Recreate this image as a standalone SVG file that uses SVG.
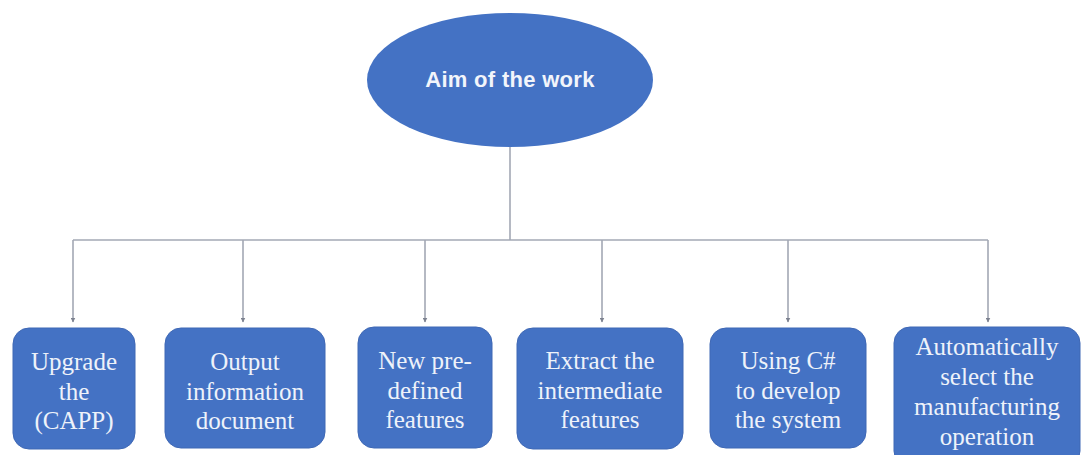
<svg xmlns="http://www.w3.org/2000/svg" width="1083" height="455" viewBox="0 0 1083 455">
  <style>
    .node { fill: #4472c4; }
    .box { fill: #4472c4; stroke: #3f68b5; stroke-width: 1; }
    .title { font-family: "Liberation Sans", Arial, sans-serif; font-weight: bold; font-size: 22px; fill: #f2f5fb; text-anchor: middle; letter-spacing: 0.3px; }
    .label { font-family: "Liberation Serif", "Times New Roman", serif; font-size: 25px; fill: #eef2fa; text-anchor: middle; }
    .link { fill: none; stroke: #a3a8b4; stroke-width: 1.6; }
  </style>
  <defs>
    <marker id="arrow" viewBox="0 0 10 10" refX="9" refY="5" markerWidth="5" markerHeight="5" orient="auto" markerUnits="userSpaceOnUse">
      <path d="M0,0 L10,5 L0,10 z" fill="#7d8290"/>
    </marker>
  </defs>
  <rect width="1083" height="455" fill="#ffffff"/>

  <!-- connectors -->
  <g id="connectors">
    <path class="link" d="M510,147 V240"/>
    <path class="link" d="M73,240 H988"/>
    <path class="link" d="M73,240 V322" marker-end="url(#arrow)"/>
    <path class="link" d="M243,240 V322" marker-end="url(#arrow)"/>
    <path class="link" d="M425,240 V322" marker-end="url(#arrow)"/>
    <path class="link" d="M602,240 V322" marker-end="url(#arrow)"/>
    <path class="link" d="M788,240 V322" marker-end="url(#arrow)"/>
    <path class="link" d="M988,240 V322" marker-end="url(#arrow)"/>
  </g>

  <!-- root -->
  <g id="aim">
    <ellipse class="node" cx="510" cy="80" rx="143" ry="67"/>
    <text class="title" x="510" y="87">Aim of the work</text>
  </g>

  <!-- children -->
  <g id="upgrade">
    <rect class="box" x="13" y="328" width="122" height="121" rx="16"/>
    <text class="label" x="74" y="370">Upgrade</text>
    <text class="label" x="74" y="400">the</text>
    <text class="label" x="74" y="429">(CAPP)</text>
  </g>
  <g id="output">
    <rect class="box" x="165" y="328" width="160" height="120" rx="16"/>
    <text class="label" x="245" y="370">Output</text>
    <text class="label" x="245" y="400">information</text>
    <text class="label" x="245" y="429">document</text>
  </g>
  <g id="predefined">
    <rect class="box" x="358" y="327" width="134" height="121" rx="16"/>
    <text class="label" x="425" y="369">New pre-</text>
    <text class="label" x="425" y="399">defined</text>
    <text class="label" x="425" y="428">features</text>
  </g>
  <g id="extract">
    <rect class="box" x="517" y="328" width="166" height="121" rx="16"/>
    <text class="label" x="600" y="369">Extract the</text>
    <text class="label" x="600" y="399">intermediate</text>
    <text class="label" x="600" y="428">features</text>
  </g>
  <g id="csharp">
    <rect class="box" x="710" y="328" width="156" height="120" rx="16"/>
    <text class="label" x="788" y="369">Using C#</text>
    <text class="label" x="788" y="399">to develop</text>
    <text class="label" x="788" y="428">the system</text>
  </g>
  <g id="select">
    <rect class="box" x="894" y="327" width="186" height="140" rx="16"/>
    <text class="label" x="987" y="355">Automatically</text>
    <text class="label" x="987" y="385">select the</text>
    <text class="label" x="987" y="415">manufacturing</text>
    <text class="label" x="987" y="445">operation</text>
  </g>
</svg>
